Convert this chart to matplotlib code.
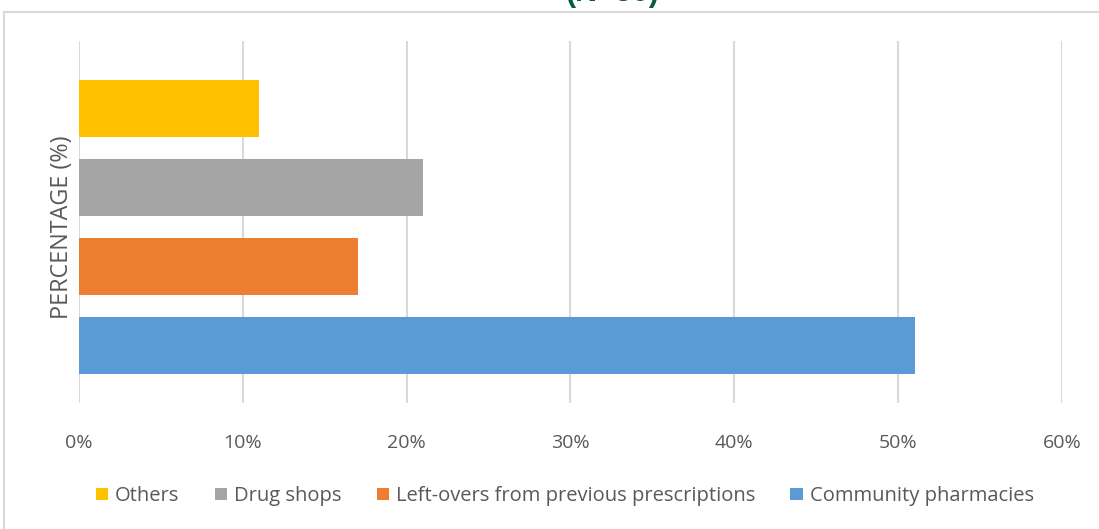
import matplotlib
matplotlib.use("Agg")
import matplotlib.pyplot as plt
from matplotlib.patches import Rectangle
from matplotlib.ticker import FuncFormatter

# data, bottom to top as drawn
sources = ["Community pharmacies", "Left-overs from previous prescriptions",
           "Drug shops", "Others"]
percent = [51, 17, 21, 11]
colors = ["#5b9bd5", "#ed7d31", "#a5a5a5", "#ffc000"]
xticks = [0, 10, 20, 30, 40, 50, 60]
title = "(N=30)"

plt.rcParams['font.family'] = ['Open Sans', 'DejaVu Sans']
text_gray = "#595959"
grid_gray = "#d9d9d9"

fig = plt.figure(figsize=(10.99, 5.29), dpi=100)
ax = fig.add_axes([0.0719, 0.2382, 0.8944, 0.6843])

# outer chart border, cut at right and bottom like the original
fig.patches.append(Rectangle((4 / 1099, -0.1), 1.2, 1 - 12 / 529 + 0.1,
                             transform=fig.transFigure, fill=False,
                             edgecolor=grid_gray, linewidth=1.5))

handles = []
for i, (name, val, col) in enumerate(zip(sources, percent, colors)):
    h = ax.barh(i, val, height=0.72, color=col, label=name, zorder=3)
    handles.append(h)

ax.set_xlim(0, 60)
ax.set_ylim(-0.73, 3.855)
ax.set_xticks(xticks)
ax.xaxis.set_major_formatter(FuncFormatter(lambda v, p: f"{int(v)}%"))
ax.set_yticks([])
ax.tick_params(axis='x', length=0, pad=22, labelsize=14, labelcolor=text_gray)
ax.grid(True, axis='x', color=grid_gray, linewidth=1.5, zorder=0)
for s in ax.spines.values():
    s.set_visible(False)

ax.set_ylabel("PERCENTAGE (%)", fontsize=16.8, color=text_gray)
ax.yaxis.set_label_coords(-0.005, 0.486)

fig.text(612 / 1099, 1 - 1.5 / 529, title, ha='center', va='baseline',
         fontsize=22, fontweight='bold', color="#0b5a44",
         family=['Liberation Sans'])

leg = fig.legend(handles[::-1], sources[::-1], loc='center',
                 bbox_to_anchor=(0.514, 1 - 496 / 529), ncol=4, frameon=False,
                 fontsize=14.5, handlelength=0.6, handleheight=0.6,
                 handletextpad=0.35, columnspacing=1.75, labelcolor=text_gray)

fig.savefig("out.png", dpi=100)
